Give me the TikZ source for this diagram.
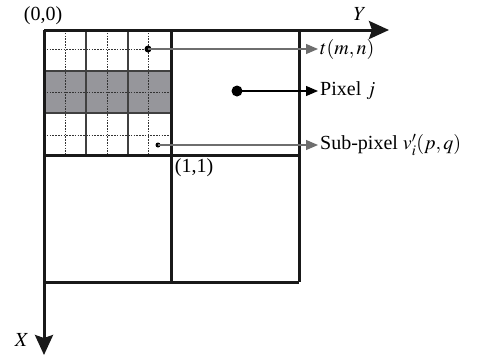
\documentclass[tikz,border=0pt]{standalone}
\usepackage{mathptmx}
\usepackage{fontspec}
\setmainfont{Liberation Serif}
\usetikzlibrary{arrows.meta}
\definecolor{cellgray}{RGB}{150,150,155}
\definecolor{leadgray}{RGB}{110,110,110}
\begin{document}
\begin{tikzpicture}[x=1pt,y=-1pt,
  txt/.style={font=\fontsize{20}{24}\selectfont, inner sep=0pt},
  heavy/.style={line width=3pt, draw=black!90},
  subline/.style={line width=1.4pt, draw=black!75},
  halfline/.style={line width=0.9pt, draw=black!80, dash pattern=on 1.6pt off 1.2pt},
  axis/.style={heavy, -{Stealth[length=20pt,width=18pt,inset=3pt]}},
  lead/.style={line width=1.2pt, -{Triangle[length=12pt,width=10pt]}},
  dot/.style={circle, fill=black, inner sep=0pt, minimum size=#1}]
\useasboundingbox (0,0) rectangle (479,360);

% shaded row of sub-pixels
\fill[cellgray] (44,71) rectangle (171,113);

% half-step (dotted) lines inside the sub-pixel grid
\foreach \x in {65,107,148} \draw[halfline] (\x,30) -- (\x,155);
\foreach \y in {49,92,135} \draw[halfline] (44,\y) -- (171,\y);

% sub-pixel boundaries
\foreach \x in {86,128} \draw[subline] (\x,30) -- (\x,155);
\foreach \y in {71,113} \draw[subline] (44,\y) -- (171,\y);

% pixel boundaries
\draw[heavy] (171,30) -- (171,282);
\draw[heavy] (299,30) -- (299,282);
\draw[heavy] (44,155) -- (299,155);
\draw[heavy] (44,282) -- (299,282);

% axes
\coordinate (O) at (44,30);
\coordinate (Yend) at (389,30);
\coordinate (Xend) at (44,355);
\draw[axis] (O) -- (Yend);
\draw[axis] (O) -- (Xend);

% axis and corner labels
\node[txt] (ylab) at (360,14) {$Y$};
\node[txt] (xlab) at (22,340) {$X$};
\node[txt] (origin) at (43,16) {(0,0)};
\node[txt] (one) at (194,168) {(1,1)};

% marked points
\node[dot=7pt] (tdot) at (148,49) {};
\node[dot=11pt] (pdot) at (237,91) {};
\node[dot=5pt] (sdot) at (158,145) {};

% callout labels
\node[txt, anchor=west, inner xsep=2pt] (tlab) at (318,49) {$t(m,n)$};
\node[txt, anchor=west, inner xsep=2pt] (plab) at (318,91) {Pixel $j$};
\node[txt, anchor=west, inner xsep=2pt] (slab) at (318,145) {Sub-pixel $v'_i(p,q)$};

% leaders
\draw[lead, leadgray] (tdot.center) -- (tlab.west);
\draw[lead, black] (pdot.center) -- (plab.west);
\draw[lead, leadgray] (sdot.center) -- (slab.west);
\end{tikzpicture}
\end{document}
